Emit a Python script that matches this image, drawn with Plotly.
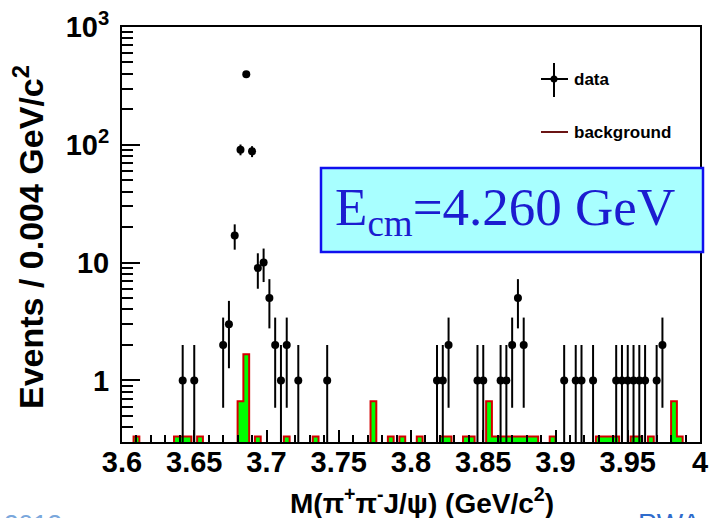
import numpy as np
import plotly.graph_objects as go

# ---------------- data ----------------
# bin centres (GeV/c^2) of non-empty data bins, bin width 0.004 GeV/c^2
data_mass = [3.642, 3.650, 3.670, 3.674, 3.678, 3.682, 3.686, 3.690, 3.694, 3.698,
             3.702, 3.706, 3.710, 3.714, 3.722, 3.742,
             3.818, 3.822, 3.826, 3.846, 3.850, 3.862, 3.866, 3.870, 3.874, 3.878,
             3.906, 3.914, 3.918, 3.926, 3.942, 3.946, 3.950, 3.954, 3.958, 3.962,
             3.970, 3.974]
data_counts = [1, 1, 2, 3, 17, 91, 397, 88, 9, 10,
               5, 2, 1, 2, 1, 1,
               1, 1, 2, 1, 1, 1, 1, 2, 5, 2,
               1, 1, 1, 1, 1, 1, 1, 1, 1, 1,
               1, 2]

# background (sideband) histogram: bin centres and sideband counts, scaled by 1/3
bkg_mass = [3.610, 3.638, 3.642, 3.646, 3.654, 3.682, 3.686, 3.694, 3.714, 3.734,
            3.774, 3.786, 3.794, 3.806, 3.822, 3.826, 3.838, 3.842, 3.854,
            3.858, 3.862, 3.866, 3.870, 3.874, 3.878, 3.882, 3.886, 3.898,
            3.930, 3.934, 3.938, 3.942, 3.954, 3.958, 3.966, 3.982, 3.986]
bkg_sideband = [1, 1, 1, 1, 1, 2, 5, 1, 1, 1,
                2, 1, 1, 1, 1, 1, 1, 1, 2,
                1, 1, 1, 1, 1, 1, 1, 1, 1,
                1, 1, 1, 1, 1, 1, 1, 2, 1]
bkg_scale = 1.0 / 3.0

x_min, x_max, bin_w = 3.6, 4.0, 0.004
x_ticks = [3.6, 3.65, 3.7, 3.75, 3.8, 3.85, 3.9, 3.95, 4.0]
x_ticktext = ["3.6", "3.65", "3.7", "3.75", "3.8", "3.85", "3.9", "3.95", "4"]
y_tickvals = [1, 10, 100, 1000]
y_ticktext = ["1", "10", "10<sup>2</sup>", "10<sup>3</sup>"]
y_minor = [0.3, 0.4, 0.5, 0.6, 0.7, 0.8, 0.9] + [m * 10 ** k for k in range(0, 3) for m in range(2, 10)]

# ---------------- derived histogram arrays ----------------
nbins = int(round((x_max - x_min) / bin_w))
edges = np.linspace(x_min, x_max, nbins + 1)
centres = 0.5 * (edges[:-1] + edges[1:])
bkg = np.zeros(nbins)
idx = np.round((np.array(bkg_mass) - x_min) / bin_w - 0.5).astype(int)
bkg[idx] = np.array(bkg_sideband) * bkg_scale
# outline: empty bins drop below the axis floor (clipped)
bkg_line = np.where(bkg > 0, bkg, 1e-3)
step_x = edges
step_y = np.append(bkg_line, bkg_line[-1])

counts = np.array(data_counts, dtype=float)

FONT = "Liberation Sans, Arial, Helvetica, sans-serif"

fig = go.Figure()
fig.add_trace(go.Bar(x=centres, y=bkg, width=bin_w, marker=dict(color="#00ff00", line=dict(width=0)),
                     showlegend=False, hoverinfo="skip"))
fig.add_trace(go.Scatter(x=step_x, y=step_y, mode="lines", line=dict(color="#d40000", width=2, shape="hv"),
                         showlegend=False, hoverinfo="skip"))
fig.add_trace(go.Scatter(x=data_mass, y=counts, mode="markers",
                         marker=dict(color="black", size=8),
                         error_y=dict(type="data", array=np.sqrt(counts), color="black", thickness=2, width=0),
                         error_x=dict(type="constant", value=bin_w / 2, color="black", thickness=2, width=0),
                         showlegend=False))

# plot-area pixel geometry
L, R, T, B = 122, 700, 27, 442
W, H = R - L, B - T


def px(x):
    return (x - L) / W


def py(y):
    return (B - y) / H


shapes = [
    # legend: data cross
    dict(type="line", xref="paper", yref="paper", x0=px(541), x1=px(568), y0=py(79), y1=py(79),
         line=dict(color="black", width=2)),
    dict(type="line", xref="paper", yref="paper", x0=px(554), x1=px(554), y0=py(63), y1=py(97),
         line=dict(color="black", width=2)),
    dict(type="circle", xref="paper", yref="paper", x0=px(550.5), x1=px(557.5), y0=py(75.5), y1=py(82.5),
         fillcolor="black", line=dict(color="black", width=0)),
    # legend: background line
    dict(type="line", xref="paper", yref="paper", x0=px(541), x1=px(568), y0=py(132), y1=py(132),
         line=dict(color="#6b1414", width=2)),
    # E_cm box
    dict(type="rect", xref="paper", yref="paper", x0=px(321), x1=px(703), y0=py(252), y1=py(168),
         fillcolor="#a8ffff", line=dict(color="#1010ee", width=2.5), layer="above"),
]

annotations = [
    dict(xref="paper", yref="paper", x=px(572), y=py(79), text="<b>data</b>", showarrow=False,
         xanchor="left", yanchor="middle", font=dict(family=FONT, size=17, color="black")),
    dict(xref="paper", yref="paper", x=px(572), y=py(132), text="<b>background</b>", showarrow=False,
         xanchor="left", yanchor="middle", font=dict(family=FONT, size=17, color="black")),
    dict(xref="paper", yref="paper", x=px(505), y=py(211), text="E<sub>cm</sub>=4.260 GeV", showarrow=False,
         xanchor="center", yanchor="middle",
         font=dict(family="Liberation Serif, Times New Roman, serif", size=53, color="#1c1cd0")),
    # axis titles
    dict(xref="paper", yref="paper", x=px(422), y=py(501),
         text="<b>M(π<sup>+</sup>π<sup>-</sup>J/ψ) (GeV/c<sup>2</sup>)</b>",
         showarrow=False, xanchor="center", yanchor="middle",
         font=dict(family=FONT, size=28, color="black")),
    dict(xref="paper", yref="paper", x=px(28), y=py(237), text="<b>Events / 0.004 GeV/c<sup>2</sup></b>",
         showarrow=False, xanchor="center", yanchor="middle", textangle=-90,
         font=dict(family=FONT, size=34, color="black")),
    # cropped slide texts at the picture's bottom edge
    dict(xref="paper", yref="paper", x=px(2), y=py(507), text="2013", showarrow=False,
         xanchor="left", yanchor="top", font=dict(family=FONT, size=26, color="#7aa7dc")),
    dict(xref="paper", yref="paper", x=px(636), y=py(506), text="PWA", showarrow=False,
         xanchor="left", yanchor="top", font=dict(family=FONT, size=28, color="#2f6ccc")),
]

fig.update_layout(
    width=710, height=518, autosize=False,
    margin=dict(l=L, r=710 - R, t=T, b=518 - B, autoexpand=False),
    paper_bgcolor="white", plot_bgcolor="white",
    bargap=0, barmode="overlay",
    shapes=shapes, annotations=annotations,
    font=dict(family=FONT, color="black"),
    xaxis=dict(
        range=[x_min, x_max], tickmode="array", tickvals=x_ticks, ticktext=x_ticktext,
        ticks="inside", ticklen=12, tickwidth=2, tickcolor="black",
        minor=dict(dtick=0.01, tick0=3.6, ticks="inside", ticklen=7, tickwidth=2, tickcolor="black"),
        showline=True, linecolor="black", linewidth=2, mirror=True,
        showgrid=False, zeroline=False, automargin=False, ticklabelstandoff=-7,
        tickfont=dict(family=FONT, size=29, color="black", weight="bold"),
    ),
    yaxis=dict(
        type="log", range=[np.log10(0.3), 3],
        tickmode="array", tickvals=y_tickvals, ticktext=y_ticktext,
        ticks="inside", ticklen=18, tickwidth=2, tickcolor="black",
        minor=dict(tickmode="array", tickvals=y_minor, ticks="inside", ticklen=11, tickwidth=2,
                   tickcolor="black"),
        showline=True, linecolor="black", linewidth=2, mirror=True,
        showgrid=False, zeroline=False, automargin=False, ticklabelstandoff=5,
        tickfont=dict(family=FONT, size=29, color="black", weight="bold"),
    ),
)

fig.write_html("out.html", config={"displayModeBar": False},
               post_script="document.body.style.margin='0';document.body.style.overflow='hidden';")
